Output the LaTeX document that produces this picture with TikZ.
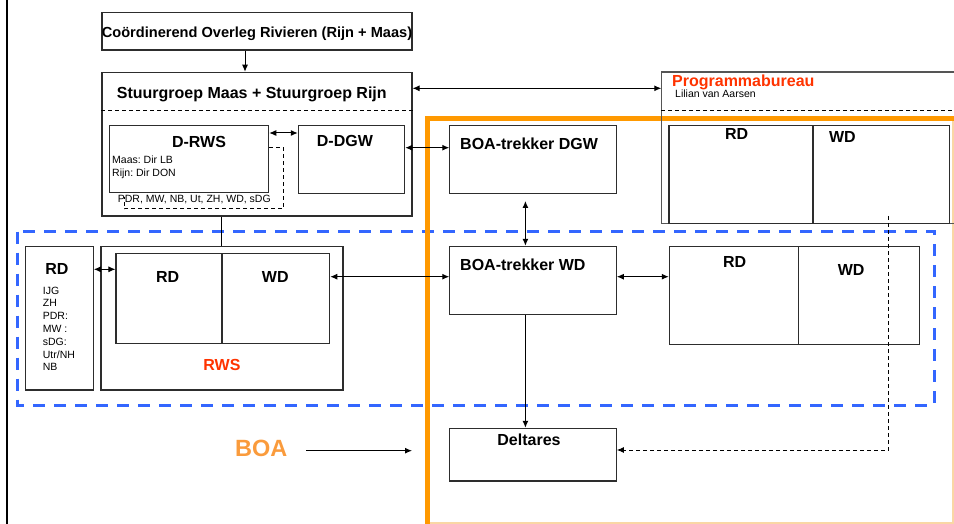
\documentclass[tikz,border=0pt]{standalone}
\usepackage{fontspec}
\setmainfont{Liberation Sans}
\usetikzlibrary{arrows.meta,calc}
\frenchspacing
\definecolor{boxline}{RGB}{45,45,45}
\definecolor{progline}{RGB}{85,85,85}
\definecolor{redtxt}{RGB}{255,51,0}
\definecolor{boaorange}{RGB}{250,155,60}
\definecolor{frameorange}{RGB}{255,153,0}
\definecolor{paleorange}{RGB}{250,215,165}
\definecolor{dashblue}{RGB}{51,102,255}
\begin{document}
\begin{tikzpicture}[x=1pt,y=-1pt,
  box/.style={draw=boxline, line width=1.1pt, inner sep=0pt},
  sz/.style args={#1/#2}{minimum width=#1pt, minimum height=#2pt},
  arr/.style={-{Latex[length=7pt,width=6pt]}, line width=1pt},
  darr/.style={{Latex[length=7pt,width=6pt]}-{Latex[length=7pt,width=6pt]}, line width=1pt},
  big/.style={font=\fontsize{16}{19}\selectfont\bfseries, inner sep=0pt},
  small/.style={font=\fontsize{10.5}{12.8}\selectfont\frenchspacing, inner sep=0pt},
  smalldash/.style={dash pattern=on 4pt off 3pt, line width=0.9pt},
]
\useasboundingbox (0,0) rectangle (954,524);

% background frames
\draw[dashblue, line width=3pt, dash pattern=on 12pt off 9pt] (17.7,231.7) rectangle (934.3,405);
\draw[paleorange, line width=1.5pt] (427.5,523.2) -- (953.2,523.2) -- (953.2,118.5);
\draw[frameorange, line width=5pt] (427.5,524) -- (427.5,118.5) -- (954,118.5);
\draw[line width=2.7pt] (7,0) -- (7,524);

% boxes
\node[box, sz=310/37.7] (coord) at (257,31.15) {};
\node[box, sz=310/143.7] (stuur) at (257,144.15) {};
\draw[smalldash] (stuur.west |- 0,110) -- (stuur.east |- 0,110);
\node[box, sz=159.4/67.4] (drws) at (189,159) {};
\node[box, sz=106.4/68] (ddgw) at (351.5,159.3) {};
\node[box, sz=166.5/67.6] (boadgw) at (533.05,159.5) {};

\node[inner sep=0pt, sz=292.5/151] (prog) at (807.75,147.8) {};
\draw[progline, line width=1.2pt] (prog.north east) -- (prog.north west) -- (prog.south west) -- (prog.south east);
\draw[smalldash] (prog.west |- 0,110.7) -- (prog.east |- 0,110.7);
\node[box, sz=144/98] (progrd) at (741,174.7) {};
\node[box, sz=136.3/98] (progwd) at (881.15,174.7) {};

\node[box, sz=67.6/143.3] (leftrd) at (59.5,318.35) {};
\node[box, sz=242/143.3] (rws) at (222,318.35) {};
\node[box, sz=106/89.6] (rwsrd) at (169,298.5) {};
\node[box, sz=107.7/89.6] (rwswd) at (275.85,298.5) {};
\node[box, sz=166.5/68.4] (boawd) at (533.05,280.5) {};
\node[box, sz=128.9/98.4] (rightrd) at (733.75,295.5) {};
\node[box, sz=121.2/98.4] (rightwd) at (858.8,295.5) {};
\node[box, sz=166.5/52.7] (deltares) at (533.05,454.65) {};

% texts
\node[font=\fontsize{14.6}{17}\selectfont\bfseries, inner sep=0pt, anchor=base] (tcoord) at (257,37.7) {Coördinerend Overleg Rivieren (Rijn + Maas)};
\node[big, anchor=base west] (tstuur) at (116.7,98.7) {Stuurgroep Maas + Stuurgroep Rijn};
\node[big, anchor=base] (tdrws) at (199,147.3) {D-RWS};
\node[small, anchor=base west] (tmaas) at (112,163.7) {Maas: Dir LB};
\node[small, anchor=base west] (trijn) at (112,176.7) {Rijn: Dir DON};
\node[small, anchor=base west] (tpdr) at (117.7,203) {PDR, MW, NB, Ut, ZH, WD, sDG};
\node[big, anchor=base west] (tddgw) at (316.7,147) {D-DGW};
\node[big, anchor=base west, text=redtxt] (tprog) at (672,86.5) {Programmabureau};
\node[small, anchor=base west] (tlilian) at (675,98) {Lilian van Aarsen};
\node[big, anchor=base] (tprogrd) at (736.7,140) {RD};
\node[big, anchor=base] (tprogwd) at (842.4,142.7) {WD};
\node[big, anchor=base west] (tboadgw) at (460,150) {BOA-trekker DGW};
\node[big, anchor=base] (tleftrd) at (57,274.3) {RD};
\foreach \t [count=\i from 0] in {IJG,ZH,PDR:,MW :,sDG:,Utr/NH,NB}
  \node[small, anchor=base west] (tlist\i) at (42.7,294+12.8*\i) {\t};
\node[big, anchor=base] (trwsrd) at (167.7,282.7) {RD};
\node[big, anchor=base] (trwswd) at (275.3,282.7) {WD};
\node[big, anchor=base, text=redtxt] (trws) at (222,370) {RWS};
\node[big, anchor=base west] (tboawd) at (460,270.7) {BOA-trekker WD};
\node[big, anchor=base] (trightrd) at (734.6,267.7) {RD};
\node[big, anchor=base] (trightwd) at (851.2,275) {WD};
\node[big, anchor=base] (tdeltares) at (529,445.3) {Deltares};
\node[font=\fontsize{23.5}{28}\selectfont\bfseries, inner sep=0pt, anchor=base west, text=boaorange] (tboa) at (235,456) {BOA};

% level coordinates
\coordinate (xa) at (245,0);
\coordinate (ya) at (0,88.3);
\coordinate (yb) at (0,133);
\coordinate (yc) at (0,147.7);
\coordinate (xb) at (525.4,201);
\coordinate (xc) at (221.3,0);
\coordinate (yd) at (0,269.3);
\coordinate (ye) at (0,276.7);
\coordinate (dtop) at (888.7,216);
\coordinate (yf) at (0,450);
\coordinate (boastart) at (306,450.7);
\coordinate (boaend) at (412,450.7);

% connectors
\draw[arr] (coord.south -| xa) -- (stuur.north -| xa);
\draw[darr] (stuur.east |- ya) -- (prog.west |- ya);
\draw[darr] (drws.east |- yb) -- (ddgw.west |- yb);
\draw[darr] (ddgw.east |- yc) -- (boadgw.west |- yc);
\draw[darr] (xb) -- (boawd.north -| xb);
\draw[line width=1pt] (stuur.south -| xc) -- (rws.north -| xc);
\draw[darr] (leftrd.east |- yd) -- (rwsrd.west |- yd);
\draw[darr] (rwswd.east |- ye) -- (boawd.west |- ye);
\draw[darr] (boawd.east |- ye) -- (rightrd.west |- ye);
\draw[arr] (boawd.south -| xb) -- (deltares.north -| xb);
\draw[smalldash, -{Latex[length=7pt,width=6pt]}] (dtop) -- (dtop |- yf) -- (deltares.east |- yf);
\draw[arr] (boastart) -- (boaend);
\draw[smalldash] (drws.east |- yc) -- (283.7,147.7) -- (283.7,208.7) -- (124.3,208.7) -- (124.3,196.7);
\end{tikzpicture}
\end{document}
